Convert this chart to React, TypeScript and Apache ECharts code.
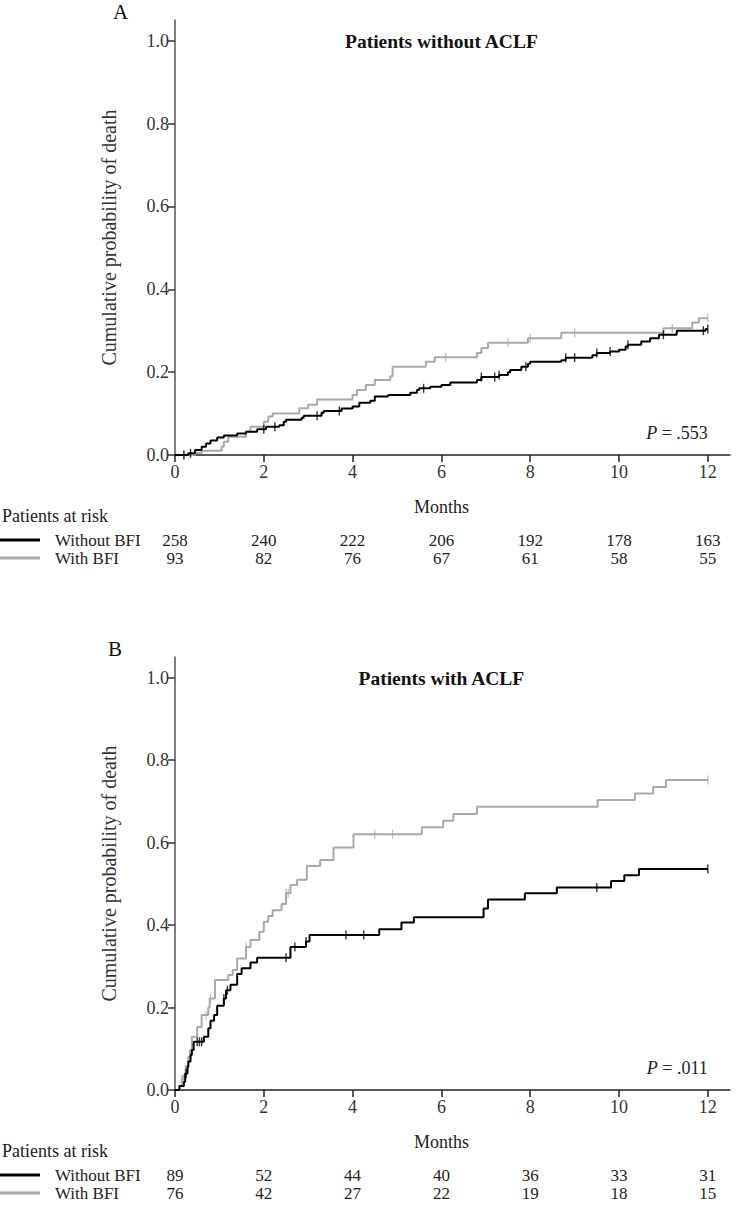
import React, { useEffect, useRef } from "react";
import * as echarts from "echarts";

const FONT = "'Liberation Serif', 'Times New Roman', serif";

const monthTicks = [0, 2, 4, 6, 8, 10, 12];
const probTicks = [0, 0.2, 0.4, 0.6, 0.8, 1.0];

const panelLabels = ["A", "B"];
const panelTitles = ["Patients without ACLF", "Patients with ACLF"];
const pValues = [".553", ".011"];
const groupNames = ["Without BFI", "With BFI"];

// Panel A: patients without ACLF  [month, cumulative probability]
const aWithout: [number, number][] = [
  [0, 0], [0.3, 0.004], [0.45, 0.012], [0.6, 0.02], [0.7, 0.028], [0.8, 0.035], [0.95, 0.042],
  [1.1, 0.047], [1.4, 0.052], [1.6, 0.056], [1.85, 0.062], [2.05, 0.068], [2.35, 0.072],
  [2.45, 0.08], [2.5, 0.085], [2.85, 0.09], [2.9, 0.095], [3.3, 0.102], [3.35, 0.106],
  [3.75, 0.112], [4.0, 0.117], [4.15, 0.126], [4.4, 0.131], [4.5, 0.141], [4.8, 0.145],
  [5.3, 0.15], [5.45, 0.157], [5.5, 0.161], [5.75, 0.165], [6.0, 0.169], [6.2, 0.175],
  [6.8, 0.181], [6.9, 0.188], [7.3, 0.193], [7.5, 0.2], [7.55, 0.205], [7.8, 0.213],
  [7.95, 0.22], [8.0, 0.225], [8.7, 0.229], [8.8, 0.235], [9.4, 0.241], [9.5, 0.246],
  [9.8, 0.25], [10.0, 0.254], [10.15, 0.262], [10.2, 0.266], [10.5, 0.274], [10.7, 0.282],
  [10.9, 0.29], [11.3, 0.3], [11.95, 0.304], [12, 0.304],
];
const aWith: [number, number][] = [
  [0, 0], [0.45, 0.005], [0.6, 0.01], [1.05, 0.02], [1.1, 0.032], [1.2, 0.044], [1.6, 0.056],
  [1.7, 0.068], [2.0, 0.08], [2.1, 0.093], [2.2, 0.1], [2.8, 0.113], [3.0, 0.121], [3.2, 0.134],
  [4.0, 0.145], [4.1, 0.157], [4.3, 0.169], [4.5, 0.181], [4.85, 0.19], [4.9, 0.213],
  [5.65, 0.225], [5.85, 0.236], [6.8, 0.246], [6.9, 0.258], [7.05, 0.271], [7.95, 0.282],
  [8.7, 0.295], [11.0, 0.306], [11.65, 0.32], [11.8, 0.33], [12, 0.33],
];
const aWithoutCensored = [0.2, 0.35, 2.0, 2.25, 3.2, 3.7, 5.6, 6.9, 7.2, 7.3, 7.9, 8.8, 9.0, 9.5, 9.8, 10.2, 11.0, 11.9, 12.0];
const aWithCensored = [0.2, 6.1, 7.5, 8.0, 9.0, 11.2, 12.0];

// Panel B: patients with ACLF
const bWithout: [number, number][] = [
  [0, 0], [0.1, 0.01], [0.2, 0.02], [0.23, 0.04], [0.28, 0.055], [0.3, 0.069], [0.35, 0.085],
  [0.38, 0.097], [0.42, 0.117], [0.65, 0.129], [0.75, 0.15], [0.8, 0.168], [0.88, 0.182],
  [0.95, 0.204], [1.1, 0.222], [1.15, 0.242], [1.25, 0.255], [1.4, 0.281], [1.5, 0.295],
  [1.7, 0.309], [1.85, 0.321], [2.6, 0.347], [2.95, 0.36], [3.03, 0.376], [4.6, 0.39],
  [5.1, 0.406], [5.38, 0.419], [6.95, 0.44], [7.05, 0.462], [7.88, 0.477], [8.6, 0.491],
  [9.82, 0.507], [10.12, 0.521], [10.45, 0.536], [12, 0.536],
];
const bWith: [number, number][] = [
  [0, 0], [0.1, 0.01], [0.15, 0.025], [0.19, 0.036], [0.24, 0.058], [0.3, 0.08], [0.34, 0.097],
  [0.38, 0.129], [0.5, 0.153], [0.6, 0.182], [0.75, 0.2], [0.78, 0.222], [0.9, 0.267],
  [1.2, 0.279], [1.3, 0.291], [1.4, 0.319], [1.6, 0.347], [1.7, 0.364], [1.9, 0.384],
  [2.0, 0.408], [2.1, 0.422], [2.2, 0.436], [2.4, 0.451], [2.5, 0.477], [2.6, 0.497],
  [2.75, 0.51], [2.97, 0.543], [3.27, 0.558], [3.57, 0.588], [4.02, 0.62], [5.56, 0.637],
  [6.04, 0.653], [6.27, 0.669], [6.8, 0.687], [9.52, 0.703], [10.36, 0.719], [10.77, 0.735],
  [11.06, 0.752], [12, 0.752],
];
const bWithoutCensored = [0.25, 0.5, 0.55, 0.6, 1.1, 1.18, 2.5, 2.7, 2.95, 3.85, 4.25, 9.5, 12.0];
const bWithCensored = [0.15, 0.7, 0.8, 1.6, 2.5, 2.55, 4.5, 4.9, 12.0];

const riskAWithout = [258, 240, 222, 206, 192, 178, 163];
const riskAWith = [93, 82, 76, 67, 61, 58, 55];
const riskBWithout = [89, 52, 44, 40, 36, 33, 31];
const riskBWith = [76, 42, 27, 22, 19, 18, 15];

const BLACK = "#000000";
const GRAY = "#a9a9a9";

function stepAt(curve: [number, number][], t: number): number {
  let v = 0;
  for (const [x, y] of curve) {
    if (x <= t + 1e-9) v = y;
    else break;
  }
  return v;
}

export default function App() {
  const ref = useRef<HTMLDivElement>(null);

  useEffect(() => {
    if (!ref.current) return;
    const chart = echarts.init(ref.current, undefined, { renderer: "svg" });

    const grids = [
      { left: 175, top: 20, width: 555, height: 435 },
      { left: 175, top: 657, width: 555, height: 433 },
    ];

    const xAxis = grids.map((_, i) => ({
      type: "value",
      gridIndex: i,
      min: 0,
      max: 12.5,
      interval: 2,
      axisLine: { show: true, lineStyle: { color: "#222", width: 1.5 } },
      axisTick: { show: true, length: 7, customValues: monthTicks, lineStyle: { color: "#222", width: 1.5 } },
      axisLabel: { customValues: monthTicks, margin: 8, color: "#333", fontFamily: FONT, fontSize: 18 },
      splitLine: { show: false },
    }));
    const yAxis = grids.map((_, i) => ({
      type: "value",
      gridIndex: i,
      min: 0,
      max: 1.05,
      interval: 0.2,
      name: "Cumulative probability of death",
      nameLocation: "middle",
      nameGap: 56,
      nameTextStyle: { color: "#333", fontFamily: FONT, fontSize: 20 },
      axisLine: { show: true, lineStyle: { color: "#555", width: 1.5 } },
      axisTick: { show: true, length: 7, customValues: probTicks, lineStyle: { color: "#333", width: 1.5 } },
      axisLabel: {
        customValues: probTicks,
        margin: 6,
        color: "#333",
        fontFamily: FONT,
        fontSize: 18,
        formatter: (v: number) => v.toFixed(1),
      },
      splitLine: { show: false },
    }));

    const curves = [
      [aWithout, aWith, aWithoutCensored, aWithCensored],
      [bWithout, bWith, bWithoutCensored, bWithCensored],
    ] as const;

    const series: any[] = [];
    curves.forEach(([cWithout, cWith, censWithout, censWith], i) => {
      series.push({
        type: "line", xAxisIndex: i, yAxisIndex: i, step: "end", showSymbol: false,
        data: cWith, lineStyle: { color: GRAY, width: 2 }, z: 2,
      });
      series.push({
        type: "line", xAxisIndex: i, yAxisIndex: i, step: "end", showSymbol: false,
        data: cWithout, lineStyle: { color: BLACK, width: 2 }, z: 3,
      });
      series.push({
        type: "scatter", xAxisIndex: i, yAxisIndex: i, symbol: "rect", symbolSize: [1.2, 9],
        itemStyle: { color: GRAY }, z: 2,
        data: (censWith as number[]).map((t) => [t, stepAt(cWith as any, t)]),
      });
      series.push({
        type: "scatter", xAxisIndex: i, yAxisIndex: i, symbol: "rect", symbolSize: [1.4, 9],
        itemStyle: { color: BLACK }, z: 4,
        data: (censWithout as number[]).map((t) => [t, stepAt(cWithout as any, t)]),
      });
    });

    chart.setOption({
      animation: false,
      backgroundColor: "#ffffff",
      grid: grids,
      xAxis,
      yAxis,
      series,
    });

    const px = (gi: number, x: number, y: number) =>
      chart.convertToPixel({ gridIndex: gi } as any, [x, y]) as number[];

    const risks = [
      [riskAWithout, riskAWith],
      [riskBWithout, riskBWith],
    ];
    const graphic: any[] = [];
    const textStyle = (extra: any) => ({ fontFamily: FONT, fontSize: 17, fill: "#222", ...extra });
    [0, 1].forEach((gi) => {
      const axisY = px(gi, 0, 0)[1];
      const topY = px(gi, 0, 1.05)[1];
      const midX = px(gi, 6, 0)[0];
      const endX = px(gi, 12, 0)[0];
      const rowGap = 18;
      const atRiskY = axisY + 61;
      const row1Y = atRiskY + 24;
      graphic.push({
        type: "text", x: gi === 0 ? 113 : 108, y: topY - 8,
        style: textStyle({ text: panelLabels[gi], fontSize: 21, fill: "#111", verticalAlign: "middle" }),
      });
      graphic.push({
        type: "text", x: midX, y: topY + 21,
        style: textStyle({ text: panelTitles[gi], fontWeight: "bold", fontSize: 19.5, fill: "#111", align: "center", verticalAlign: "middle" }),
      });
      graphic.push({
        type: "text", x: endX, y: axisY - 22,
        style: {
          text: "{i|P} = " + pValues[gi],
          align: "right", verticalAlign: "middle", fontFamily: FONT, fontSize: 18, fill: "#222",
          rich: { i: { fontStyle: "italic", fontFamily: FONT, fontSize: 18, fill: "#222" } },
        },
      });
      graphic.push({
        type: "text", x: midX, y: axisY + 52,
        style: textStyle({ text: "Months", fontSize: 18, align: "center", verticalAlign: "middle" }),
      });
      graphic.push({
        type: "text", x: 2, y: atRiskY,
        style: textStyle({ text: "Patients at risk", fontSize: 18, verticalAlign: "middle" }),
      });
      [0, 1].forEach((r) => {
        const y = row1Y + r * rowGap;
        graphic.push({
          type: "line", shape: { x1: 0, y1: y, x2: 40, y2: y },
          style: { stroke: r === 0 ? BLACK : GRAY, lineWidth: 3 },
        });
        graphic.push({
          type: "text", x: 55, y,
          style: textStyle({ text: groupNames[r], verticalAlign: "middle" }),
        });
        risks[gi][r].forEach((n, k) => {
          const x = px(gi, monthTicks[k], 0)[0];
          graphic.push({
            type: "text", x, y,
            style: textStyle({ text: String(n), align: "center", verticalAlign: "middle" }),
          });
        });
      });
    });

    chart.setOption({ graphic });

    return () => chart.dispose();
  }, []);

  return (
    <div
      ref={ref}
      style={{ position: "absolute", left: 0, top: 0, width: 736, height: 1208, background: "#fff" }}
    />
  );
}
